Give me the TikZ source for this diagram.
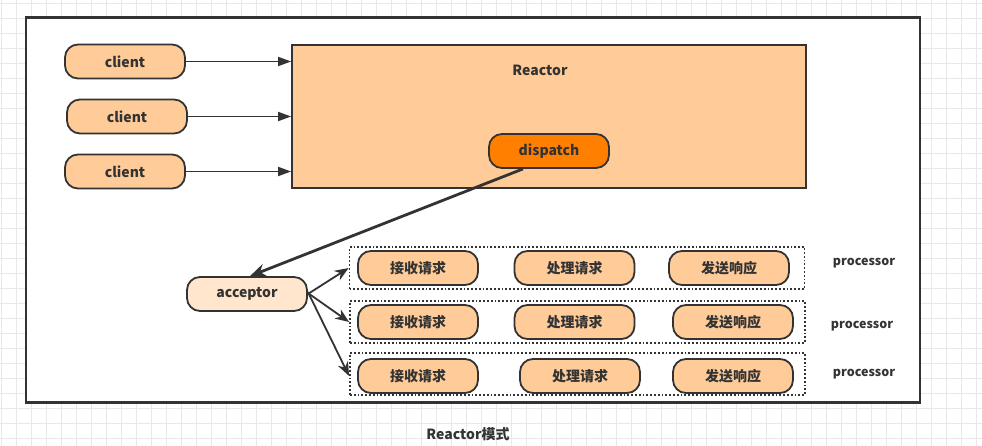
\documentclass[tikz,border=0pt]{standalone}
\usepackage{fontspec}
\setmainfont{Noto Sans CJK SC}
\usetikzlibrary{arrows.meta}
\definecolor{ink}{HTML}{333333}
\definecolor{peach}{HTML}{FFCC99}
\definecolor{lightpeach}{HTML}{FFE6CC}
\definecolor{orng}{HTML}{FF8000}
\definecolor{gridc}{HTML}{E8E8E8}
\tikzset{
  pill/.style={draw=ink, line width=1.8pt, fill=peach, rounded corners=13pt,
    minimum width=120pt, minimum height=34pt, inner sep=0pt,
    font=\fontsize{14}{16}\selectfont\bfseries, text=ink},
  procbox/.style={draw=ink, line width=1.8pt, dotted, minimum width=455pt,
    minimum height=42pt, inner sep=0pt},
  lbl/.style={font=\fontsize{14}{16}\selectfont\bfseries, text=ink, inner sep=0pt},
  conn/.style={draw=ink, line width=1.8pt, -{Triangle[length=13pt,width=9pt]}},
  thickconn/.style={draw=ink, line width=2.8pt, -{Stealth[length=16pt,width=13pt]}},
  fanconn/.style={draw=ink, line width=1.8pt, -{Stealth[length=14pt,width=11pt]}},
}
\begin{document}
\begin{tikzpicture}[x=1pt,y=-1pt]
\useasboundingbox (0,0) rectangle (982,446);
% background grid
\foreach \k in {0,...,65} \draw[gridc, line width=0.9pt] ({1.7+15*\k},0) -- ({1.7+15*\k},446);
\foreach \k in {0,...,29} \draw[gridc, line width=0.9pt] (0,{3.3+15*\k}) -- (982,{3.3+15*\k});
% outer frame
\node[draw=ink, fill=white, line width=2.5pt, minimum width=894pt, minimum height=385pt, inner sep=0pt] (frame) at (473,210) {};
% reactor
\node[draw=ink, fill=peach, line width=1.8pt, minimum width=514pt, minimum height=143pt, inner sep=0pt] (reactor) at (549,116.5) {};
\node[lbl] (reactorlbl) at (540,70) {Reactor};
\node[pill, fill=orng] (dispatch) at (549,151) {dispatch};
% clients
\node[pill] (c1) at (125,61.5) {client};
\node[pill] (c2) at (127,116.5) {client};
\node[pill] (c3) at (125,171.5) {client};
\draw[conn] (c1.east) -- (c1.east -| reactor.west);
\draw[conn] (c2.east) -- (c2.east -| reactor.west);
\draw[conn] (c3.east) -- (c3.east -| reactor.west);
% acceptor
\node[pill, fill=lightpeach] (acceptor) at (247,294) {acceptor};
\draw[thickconn] ([xshift=-26pt]dispatch.south) -- ([xshift=3pt]acceptor.north);
% processors
\node[procbox] (p1) at (577,268) {};
\node[procbox] (p2) at (577.5,322) {};
\node[procbox] (p3) at (577.5,374) {};
\node[pill] (r1a) at (418,268) {接收请求};
\node[pill] (r1b) at (574.5,268) {处理请求};
\node[pill] (r1c) at (729,268) {发送响应};
\node[pill] (r2a) at (418,322) {接收请求};
\node[pill] (r2b) at (574.5,322) {处理请求};
\node[pill] (r2c) at (733,322) {发送响应};
\node[pill] (r3a) at (418,376) {接收请求};
\node[pill] (r3b) at (580,376) {处理请求};
\node[pill] (r3c) at (733,376) {发送响应};
\node[lbl, font=\fontsize{12.5}{14}\selectfont\bfseries] (pl1) at (864,263) {processor};
\node[lbl, font=\fontsize{12.5}{14}\selectfont\bfseries] (pl2) at (862,326) {processor};
\node[lbl, font=\fontsize{12.5}{14}\selectfont\bfseries] (pl3) at (864,374) {processor};
\draw[fanconn] (acceptor.east) -- (p1.west);
\draw[fanconn] ([yshift=1pt]acceptor.east) -- (p2.west);
\draw[fanconn] ([yshift=2pt]acceptor.east) -- ([yshift=-2pt]p3.west);
% caption
\node[lbl] (caption) at (468,434) {Reactor模式};
\end{tikzpicture}
\end{document}
